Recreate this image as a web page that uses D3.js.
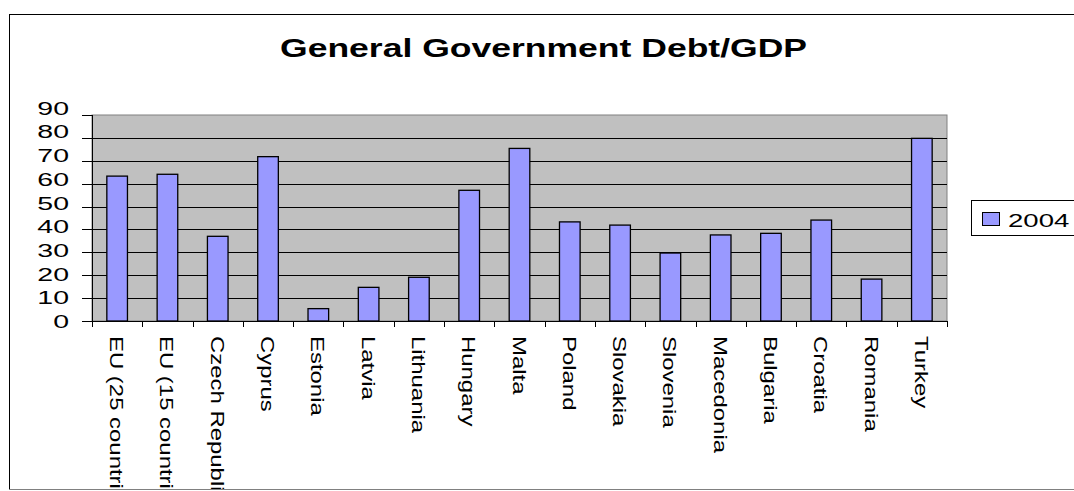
<!DOCTYPE html>
<html>
<head>
<meta charset="utf-8">
<script src="https://cdn.jsdelivr.net/npm/d3@7"></script>
<style>
    body { margin: 0; background: #fff; }
    svg { display: block; font-family: Arial, "Liberation Sans", sans-serif; }
</style>
</head>
<body>
<svg id="chart" width="1074" height="491"></svg>
<script>
const categories = ["EU (25 countries)", "EU (15 countries)", "Czech Republic", "Cyprus", "Estonia", "Latvia",
    "Lithuania", "Hungary", "Malta", "Poland", "Slovakia", "Slovenia", "Macedonia", "Bulgaria",
    "Croatia", "Romania", "Turkey"];
const values2004 = [63.3, 64.1, 37.0, 71.8, 5.4, 14.7, 19.1, 57.1, 75.4, 43.3, 41.9, 29.7, 37.6, 38.3, 44.1, 18.3, 79.8];
const yTicks = [0, 10, 20, 30, 40, 50, 60, 70, 80, 90];
const seriesName = "2004";
const title = "General Government Debt/GDP";

const svg = d3.select("#chart");
const plot = { left: 92, right: 947, top: 115, bottom: 321 };

// chart area frame, labels get cut at its bottom edge like in the original
svg.append("clipPath").attr("id", "frame")
    .append("rect").attr("x", 9).attr("y", 14).attr("width", 1100).attr("height", 475);

const root = svg.append("g").attr("clip-path", "url(#frame)");

svg.append("line").attr("x1", 9.5).attr("x2", 9.5).attr("y1", 14).attr("y2", 490)
    .attr("stroke", "#000");
svg.append("line").attr("x1", 9).attr("x2", 1074).attr("y1", 14.5).attr("y2", 14.5)
    .attr("stroke", "#000");
svg.append("line").attr("x1", 9).attr("x2", 1074).attr("y1", 489.5).attr("y2", 489.5)
    .attr("stroke", "#808080");

root.append("text")
    .attr("x", 280).attr("y", 56.5)
    .attr("textLength", 527).attr("lengthAdjust", "spacingAndGlyphs")
    .attr("font-size", 26).attr("font-weight", "bold")
    .text(title);

const y = d3.scaleLinear().domain([0, 90]).range([plot.bottom, plot.top]);
const xCat = d3.scaleBand().domain(categories).range([plot.left, plot.right]);
const xBar = d3.scaleBand().domain(categories).range([plot.left, plot.right])
    .paddingInner(0.59).paddingOuter(0.295);

root.append("rect")
    .attr("x", plot.left).attr("y", plot.top)
    .attr("width", plot.right - plot.left).attr("height", plot.bottom - plot.top)
    .attr("fill", "#c0c0c0").attr("stroke", "#808080");

root.append("g")
    .selectAll("line")
    .data(yTicks.filter(t => t > 0 && t < 90))
    .join("line")
    .attr("x1", plot.left).attr("x2", plot.right)
    .attr("y1", d => Math.round(y(d)) + 0.5).attr("y2", d => Math.round(y(d)) + 0.5)
    .attr("stroke", "#000");

root.append("g")
    .selectAll("rect")
    .data(categories)
    .join("rect")
    .attr("x", d => xBar(d))
    .attr("y", (d, i) => y(values2004[i]))
    .attr("width", xBar.bandwidth())
    .attr("height", (d, i) => y(0) - y(values2004[i]))
    .attr("fill", "#9999ff")
    .attr("stroke", "#000")
    .attr("stroke-width", 1.3);

// y axis
const yAxis = root.append("g");
yAxis.append("line")
    .attr("x1", plot.left + 0.5).attr("x2", plot.left + 0.5)
    .attr("y1", plot.top).attr("y2", plot.bottom + 1)
    .attr("stroke", "#000");
yAxis.selectAll(".tick")
    .data(yTicks)
    .join("line")
    .attr("x1", plot.left - 10).attr("x2", plot.left)
    .attr("y1", d => Math.round(y(d)) + 0.5).attr("y2", d => Math.round(y(d)) + 0.5)
    .attr("stroke", "#000");
yAxis.selectAll("text")
    .data(yTicks)
    .join("text")
    .attr("transform", d => `translate(69,${y(d) + 7 - d * 0.08}) scale(1.5,1)`)
    .attr("text-anchor", "end")
    .attr("font-size", 19)
    .text(d => d);

// x axis
const xAxis = root.append("g");
xAxis.append("line")
    .attr("x1", plot.left).attr("x2", plot.right + 1)
    .attr("y1", plot.bottom + 0.5).attr("y2", plot.bottom + 0.5)
    .attr("stroke", "#000");
xAxis.selectAll(".tick")
    .data(categories.map(c => xCat(c)).concat([plot.right]))
    .join("line")
    .attr("x1", d => Math.round(d) + 0.5).attr("x2", d => Math.round(d) + 0.5)
    .attr("y1", plot.bottom).attr("y2", plot.bottom + 6)
    .attr("stroke", "#000");
xAxis.selectAll("text")
    .data(categories)
    .join("text")
    .attr("transform", d => `translate(${xCat(d) + xCat.bandwidth() / 2 - 7},336) rotate(90) scale(1.33,1)`)
    .attr("font-size", 18)
    .text(d => d);

// legend
const legend = root.append("g");
legend.append("rect")
    .attr("x", 971.5).attr("y", 200.5).attr("width", 200).attr("height", 35)
    .attr("fill", "#fff").attr("stroke", "#000");
legend.append("rect")
    .attr("x", 982.5).attr("y", 212.5).attr("width", 17).attr("height", 13)
    .attr("fill", "#9999ff").attr("stroke", "#000");
legend.append("text")
    .attr("transform", "translate(1008,227) scale(1.45,1)")
    .attr("font-size", 19)
    .text(seriesName);
</script>
</body>
</html>
